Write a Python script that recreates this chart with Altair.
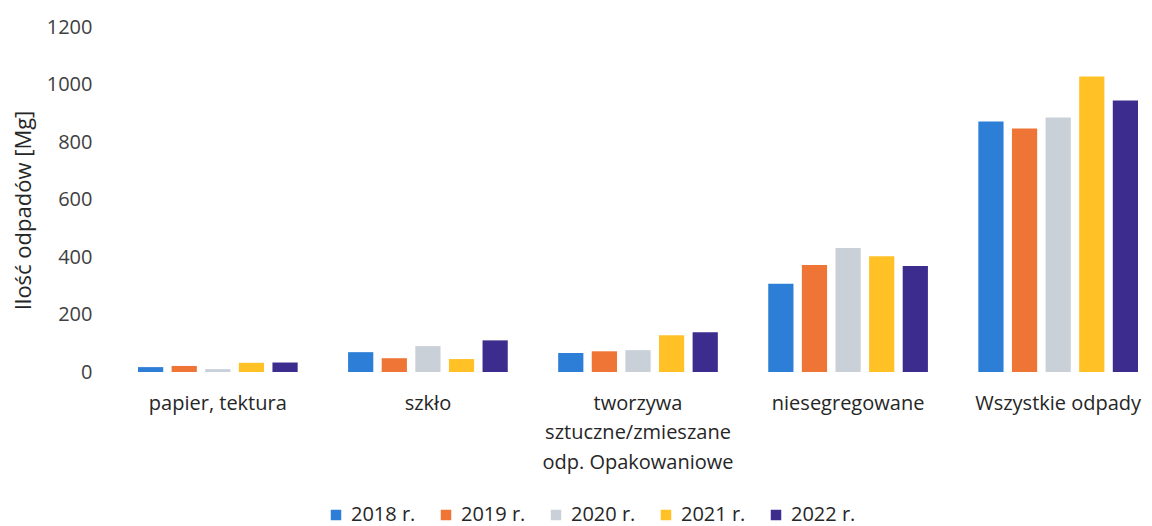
import altair as alt
import pandas as pd

categories = [
    "papier, tektura",
    "szkło",
    "tworzywa|sztuczne/zmieszane|odp. Opakowaniowe",
    "niesegregowane",
    "Wszystkie odpady",
]
years = ["2018 r.", "2019 r.", "2020 r.", "2021 r.", "2022 r."]
vals_2018 = [17, 69, 66, 307, 871]
vals_2019 = [21, 48, 72, 372, 847]
vals_2020 = [10, 90, 76, 431, 885]
vals_2021 = [32, 45, 128, 403, 1028]
vals_2022 = [33, 110, 138, 369, 944]
colors = ["#2C7ED6", "#EE7536", "#C9D0D8", "#FFC125", "#3B2C8E"]

series = [vals_2018, vals_2019, vals_2020, vals_2021, vals_2022]
rows = []
for y, vals in zip(years, series):
    for c, v in zip(categories, vals):
        rows.append({"kategoria": c, "rok": y, "wartosc": v})
df = pd.DataFrame(rows)

FONT = "Open Sans"

chart = alt.Chart(df).mark_bar().encode(
    x=alt.X(
        "kategoria:N",
        sort=categories,
        scale=alt.Scale(paddingInner=0.24, paddingOuter=0.0),
        axis=alt.Axis(
            title=None,
            labelAngle=0,
            labelExpr="split(datum.label, '|')",
            labelFontSize=20,
            labelFont=FONT,
            labelColor="#262626",
            labelLineHeight=29.5,
            labelPadding=21,
            labelBaseline="top",
            labelLimit=0,
            domain=False,
            ticks=False,
            grid=False,
        ),
    ),
    xOffset=alt.XOffset("rok:N", sort=years, scale=alt.Scale(paddingInner=0.25, paddingOuter=0.0)),
    y=alt.Y(
        "wartosc:Q",
        scale=alt.Scale(domain=[0, 1200]),
        axis=alt.Axis(
            title="Ilość odpadów [Mg]",
            values=[0, 200, 400, 600, 800, 1000, 1200],
            format="d",
            labelFontSize=20,
            labelFont=FONT,
            labelColor="#404040",
            labelPadding=46,
            titleFontSize=22,
            titleFont=FONT,
            titleFontWeight="normal",
            titleColor="#262626",
            titleX=-103,
            titleY=183,
            titleAngle=-90,
            titleBaseline="bottom",
            domain=False,
            ticks=False,
            grid=False,
        ),
    ),
    color=alt.Color(
        "rok:N",
        sort=years,
        scale=alt.Scale(domain=years, range=colors),
        legend=alt.Legend(
            title=None,
            orient="none",
            direction="horizontal",
            legendX=188,
            legendY=478,
            symbolType="square",
            symbolSize=110,
            symbolStrokeWidth=0,
            labelFontSize=20,
            labelFont=FONT,
            labelColor="#262626",
            columnPadding=20,
            labelOffset=5,
        ),
    ),
).properties(
    width=1000,
    height=345,
    padding={"left": 130, "top": 19, "right": 6, "bottom": 158},
    autosize=alt.AutoSizeParams(type="none"),
).configure_view(stroke=None)

chart.save("out.html", embed_options={"renderer": "svg", "actions": False})
